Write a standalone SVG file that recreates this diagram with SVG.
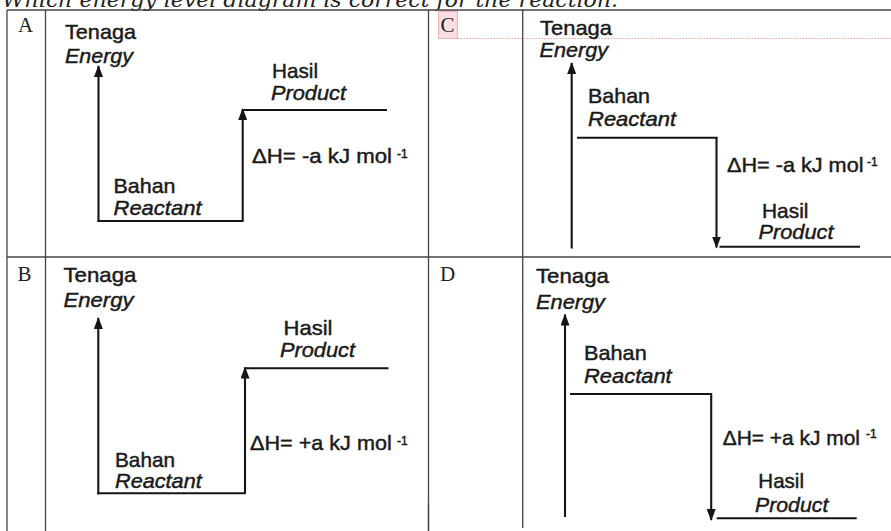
<svg xmlns="http://www.w3.org/2000/svg" width="891" height="531" viewBox="0 0 891 531">
<style>
.t{font-family:"Liberation Sans",Arial,sans-serif;font-size:21px;fill:#1a1a1a;stroke:#1a1a1a;stroke-width:0.45}
.i{font-style:italic}
.sup{font-size:12px}
.ln{stroke:#151515;stroke-width:2.1;fill:none}
.arr{marker-end:url(#ah)}
.grid{stroke:#444;stroke-width:1.3;fill:none}
.lbl{font-family:"Liberation Serif","Times New Roman",serif;font-size:21px;fill:#222}
.hdr{font-family:"DejaVu Serif","Liberation Serif",serif;font-style:italic;font-size:20px;fill:#222}
</style>
<defs>
<marker id="ah" viewBox="0 0 12 9" refX="11" refY="4.5" markerWidth="12" markerHeight="9" markerUnits="userSpaceOnUse" orient="auto">
<path d="M0,0 L12,4.5 L0,9 z" fill="#151515"/>
</marker>
</defs>
<rect width="891" height="531" fill="#ffffff"/>
<text class="hdr" x="2" y="6.5" textLength="616" lengthAdjust="spacingAndGlyphs">Which energy level diagram is correct for the reaction.</text>

<g id="table">
<line class="grid" x1="7" y1="10" x2="891" y2="10" stroke-width="1.6"/>
<line class="grid" x1="7" y1="257" x2="891" y2="257" stroke-width="1.8"/>
<line class="grid" x1="7" y1="10" x2="7" y2="531"/>
<line class="grid" x1="45.5" y1="10" x2="45.5" y2="531"/>
<line class="grid" x1="428.5" y1="10" x2="428.5" y2="531"/>
<line class="grid" x1="428.5" y1="503" x2="428.5" y2="531" stroke="#111" stroke-width="2"/>
<line class="grid" x1="522.7" y1="10" x2="522.7" y2="528"/>
</g>

<g id="highlight-C">
<rect x="438.5" y="11.5" width="19" height="27" fill="#fbdfe2" stroke="#eeb0b7" stroke-width="1"/>
<line x1="457.5" y1="38.5" x2="891" y2="38.5" stroke="#efa3a8" stroke-width="1" stroke-dasharray="1.5 1.5"/>
</g>

<g id="option-labels">
<text class="lbl" x="18" y="32">A</text>
<text class="lbl" x="440.5" y="32">C</text>
<text class="lbl" x="17.5" y="281">B</text>
<text class="lbl" x="440" y="281">D</text>
</g>

<g id="connectors">
<!-- A -->
<line class="ln arr" x1="98.5" y1="222" x2="98.5" y2="66"/>
<line class="ln" x1="97.5" y1="221" x2="243.5" y2="221"/>
<line class="ln arr" x1="242.7" y1="221" x2="242.7" y2="109"/>
<line class="ln" x1="242" y1="110" x2="387" y2="110"/>
<!-- C -->
<line class="ln arr" x1="571.7" y1="248.5" x2="571.7" y2="63"/>
<line class="ln" x1="577" y1="137.7" x2="717.5" y2="137.7"/>
<line class="ln arr" x1="716.5" y1="137" x2="716.5" y2="247.5"/>
<line class="ln" x1="719.5" y1="246.7" x2="860" y2="246.7"/>
<!-- B -->
<line class="ln arr" x1="98.3" y1="494.3" x2="98.3" y2="318"/>
<line class="ln" x1="97.3" y1="493.3" x2="245.8" y2="493.3"/>
<line class="ln arr" x1="245" y1="493.3" x2="245" y2="367.5"/>
<line class="ln" x1="244.5" y1="368.3" x2="388.5" y2="368.3"/>
<!-- D -->
<line class="ln arr" x1="565" y1="517" x2="565" y2="314.5"/>
<line class="ln" x1="570" y1="394" x2="712" y2="394"/>
<line class="ln arr" x1="711.2" y1="393.3" x2="711.2" y2="520"/>
<line class="ln" x1="716.7" y1="518.3" x2="856.7" y2="518.3"/>
</g>

<g id="diagram-A">
<text class="t" x="65" y="38.5" textLength="71" lengthAdjust="spacingAndGlyphs">Tenaga</text>
<text class="t i" x="65" y="63" textLength="68" lengthAdjust="spacingAndGlyphs">Energy</text>
<text class="t" x="272" y="78" textLength="46" lengthAdjust="spacingAndGlyphs">Hasil</text>
<text class="t i" x="271" y="100" textLength="75" lengthAdjust="spacingAndGlyphs">Product</text>
<text class="t"><tspan x="252" y="163" textLength="140" lengthAdjust="spacingAndGlyphs">ΔH= -a kJ mol</tspan><tspan class="sup" x="397" y="157.5">-1</tspan></text>
<text class="t" x="113.5" y="193" textLength="62" lengthAdjust="spacingAndGlyphs">Bahan</text>
<text class="t i" x="113.5" y="215" textLength="88" lengthAdjust="spacingAndGlyphs">Reactant</text>
</g>

<g id="diagram-C">
<text class="t" x="540" y="35" textLength="72" lengthAdjust="spacingAndGlyphs">Tenaga</text>
<text class="t i" x="539.5" y="57" textLength="68.5" lengthAdjust="spacingAndGlyphs">Energy</text>
<text class="t" x="588" y="102.7" textLength="62" lengthAdjust="spacingAndGlyphs">Bahan</text>
<text class="t i" x="588" y="126" textLength="88" lengthAdjust="spacingAndGlyphs">Reactant</text>
<text class="t"><tspan x="727" y="171.7" textLength="136.5" lengthAdjust="spacingAndGlyphs">ΔH= -a kJ mol</tspan><tspan class="sup" x="867" y="165.5">-1</tspan></text>
<text class="t" x="762" y="218.3" textLength="46.5" lengthAdjust="spacingAndGlyphs">Hasil</text>
<text class="t i" x="758.5" y="239.3" textLength="75" lengthAdjust="spacingAndGlyphs">Product</text>
</g>

<g id="diagram-B">
<text class="t" x="63.5" y="281.7" textLength="73" lengthAdjust="spacingAndGlyphs">Tenaga</text>
<text class="t i" x="63.5" y="306.7" textLength="70" lengthAdjust="spacingAndGlyphs">Energy</text>
<text class="t" x="283.5" y="335" textLength="49" lengthAdjust="spacingAndGlyphs">Hasil</text>
<text class="t i" x="280" y="356.7" textLength="75" lengthAdjust="spacingAndGlyphs">Product</text>
<text class="t"><tspan x="250" y="450" textLength="141.7" lengthAdjust="spacingAndGlyphs">ΔH= +a kJ mol</tspan><tspan class="sup" x="397" y="444.5">-1</tspan></text>
<text class="t" x="115" y="466.7" textLength="60" lengthAdjust="spacingAndGlyphs">Bahan</text>
<text class="t i" x="115" y="488.3" textLength="86.7" lengthAdjust="spacingAndGlyphs">Reactant</text>
</g>

<g id="diagram-D">
<text class="t" x="536" y="283" textLength="73" lengthAdjust="spacingAndGlyphs">Tenaga</text>
<text class="t i" x="536" y="309.3" textLength="69" lengthAdjust="spacingAndGlyphs">Energy</text>
<text class="t" x="584" y="360" textLength="62.7" lengthAdjust="spacingAndGlyphs">Bahan</text>
<text class="t i" x="584" y="383.3" textLength="87.7" lengthAdjust="spacingAndGlyphs">Reactant</text>
<text class="t"><tspan x="722.7" y="445" textLength="137.3" lengthAdjust="spacingAndGlyphs">ΔH= +a kJ mol</tspan><tspan class="sup" x="866" y="437.5">-1</tspan></text>
<text class="t" x="758.3" y="488.3" textLength="45.7" lengthAdjust="spacingAndGlyphs">Hasil</text>
<text class="t i" x="755" y="511.7" textLength="73.3" lengthAdjust="spacingAndGlyphs">Product</text>
</g>
</svg>
